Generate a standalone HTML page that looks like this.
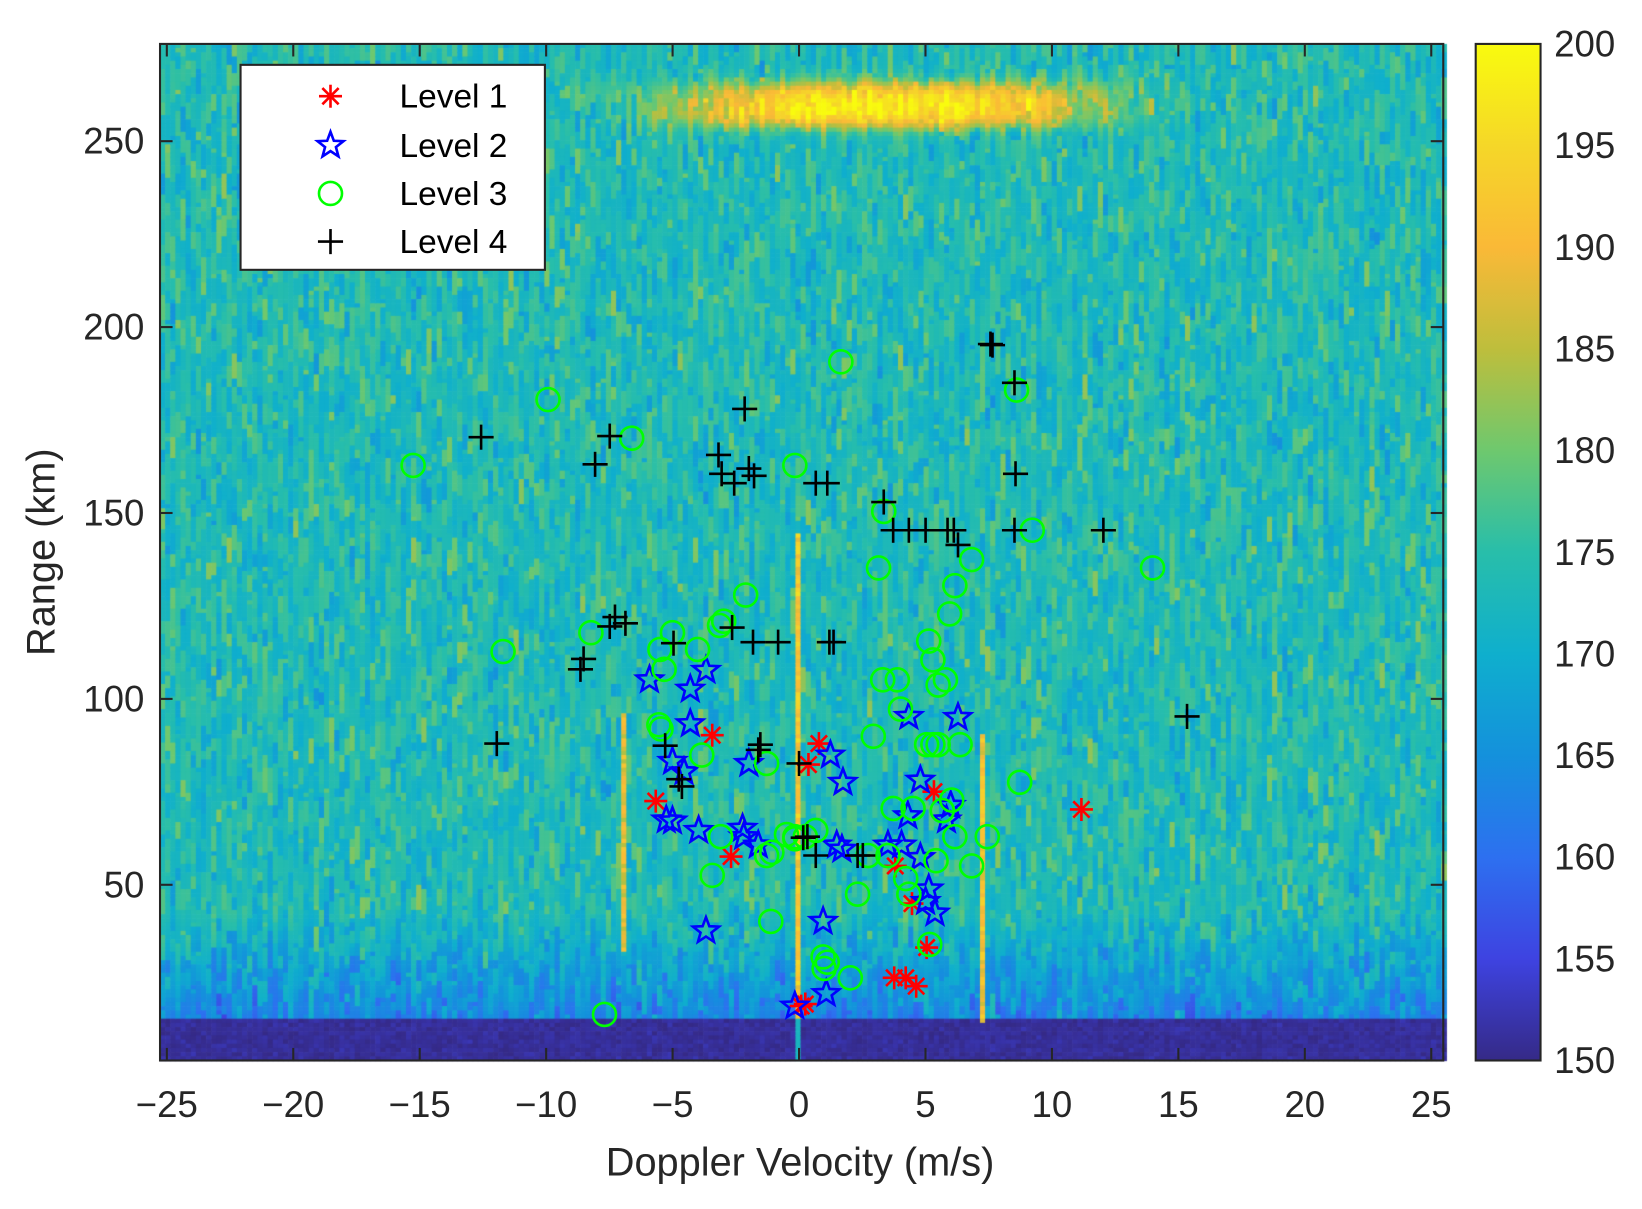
<!DOCTYPE html>
<html><head><meta charset="utf-8"><style>
html,body{margin:0;padding:0;background:#fff;}
#wrap{position:relative;width:1642px;height:1209px;overflow:hidden;}
canvas,svg{position:absolute;left:0;top:0;}
text{font-family:"Liberation Sans",sans-serif;fill:#262626;}
</style></head><body><div id="wrap">
<canvas id="c" width="1642" height="1209"></canvas>
<svg id="s" width="1642" height="1209" viewBox="0 0 1570 1156" xmlns="http://www.w3.org/2000/svg">
<defs>
<linearGradient id="cb" x1="0" y1="1" x2="0" y2="0">
<stop offset="0" stop-color="rgb(53,42,135)"/>
<stop offset="0.1" stop-color="rgb(62,67,225)"/>
<stop offset="0.2" stop-color="rgb(45,112,240)"/>
<stop offset="0.3" stop-color="rgb(20,145,220)"/>
<stop offset="0.4" stop-color="rgb(15,175,205)"/>
<stop offset="0.5" stop-color="rgb(40,190,170)"/>
<stop offset="0.6" stop-color="rgb(110,200,110)"/>
<stop offset="0.7" stop-color="rgb(190,190,60)"/>
<stop offset="0.8" stop-color="rgb(250,185,55)"/>
<stop offset="0.9" stop-color="rgb(245,215,40)"/>
<stop offset="1" stop-color="rgb(249,251,14)"/>
</linearGradient>
</defs>
<g id="marks"></g>
<rect x="153" y="42" width="1227" height="972" fill="none" stroke="#262626" stroke-width="2"/>
<g id="ticks" stroke="#262626" stroke-width="2"></g>
<g id="labels" font-size="35"></g>
<text x="765" y="1124" font-size="38" text-anchor="middle">Doppler Velocity (m/s)</text>
<text transform="translate(52,528) rotate(-90)" font-size="38" text-anchor="middle">Range (km)</text>
<rect x="1411" y="42" width="62" height="972" fill="url(#cb)" stroke="#262626" stroke-width="2"/>
<rect x="230" y="62" width="291" height="196" fill="#fff" stroke="#262626" stroke-width="2"/>
<g id="leg" font-size="32"></g>
</svg>
</div>
<script>
const S=1642/1570;
const X0=153,X1=1380,Y0=42,Y1=1014;
const cv=document.getElementById('c').getContext('2d');
cv.scale(S,S);
const st=[[0,53,42,135],[.1,62,67,225],[.2,45,112,240],[.3,20,145,220],[.4,15,175,205],[.5,40,190,170],[.6,110,200,110],[.7,190,190,60],[.8,250,185,55],[.9,245,215,40],[1,249,251,14]];
function par(v){let t=(v-150)/50;t=Math.max(0,Math.min(1,t));for(let i=1;i<st.length;i++){if(t<=st[i][0]){const a=st[i-1],b=st[i],f=(t-a[0])/(b[0]-a[0]);return `rgb(${Math.round(a[1]+f*(b[1]-a[1]))},${Math.round(a[2]+f*(b[2]-a[2]))},${Math.round(a[3]+f*(b[3]-a[3]))})`;}}}
let seed=12345;function rnd(){seed=(seed*1103515245+12345)&0x7fffffff;return seed/0x7fffffff;}
function gauss(){return (rnd()+rnd()+rnd()-1.5)*2;}
const cw=4.9,rh=4;
for(let x=X0;x<X1;x+=cw){
  let cur=0,len=0;
  for(let y=Y0;y<Y1;y+=rh){
    if(len<=0){cur=gauss()*3.2;len=1+Math.floor(rnd()*6);}
    len--;
    let v=173.6+cur;
    const xc=x+cw/2,yc=y+rh/2;
    if(yc>870) v-= (yc-870)/105*10;
    if(yc>975) v=151+gauss()*0.6;
    const bx=(xc-850)/200,by=(yc-101)/22;
    v+=27*Math.exp(-Math.pow(Math.abs(bx),3)-Math.pow(Math.abs(by),3))*(0.85+0.15*rnd());
    if(Math.abs(xc-764)<3.5 && yc>510 && yc<975) v=188+rnd()*8;
    if(Math.abs(xc-597)<3 && yc>680 && yc<910) v=184+rnd()*8;
    if(Math.abs(xc-938)<3 && yc>700 && yc<980) v=186+rnd()*8;
    if(Math.abs(xc-764)<3 && yc>=975) v=172;
    cv.fillStyle=par(v);cv.fillRect(x,y,cw+0.6,rh+0.6);
  }
}
const NS='http://www.w3.org/2000/svg';
function el(p,t,a){const e=document.createElementNS(NS,t);for(const k in a)e.setAttribute(k,a[k]);p.appendChild(e);return e;}
const tk=document.getElementById('ticks'),lb=document.getElementById('labels');
for(let v=-25;v<=25;v+=5){const x=764+24.18*v;el(tk,'line',{x1:x,y1:Y1,x2:x,y2:Y1-12});el(tk,'line',{x1:x,y1:Y0,x2:x,y2:Y0+12});
 const t=el(lb,'text',{x:x,y:1068,'text-anchor':'middle'});t.textContent=(v<0?'\u2212'+(-v):''+v);}
for(let r=50;r<=250;r+=50){const y=846-(r-50)*3.555;el(tk,'line',{x1:X0,y1:y,x2:X0+12,y2:y});el(tk,'line',{x1:X1,y1:y,x2:X1-12,y2:y});
 const t=el(lb,'text',{x:138,y:y+12,'text-anchor':'end'});t.textContent=r;}
for(let c=150;c<=200;c+=5){const y=1014-(c-150)*19.44;if(c>150&&c<200)el(tk,'line',{x1:1473,y1:y,x2:1462,y2:y});
 const t=el(lb,'text',{x:1486,y:y+12});t.textContent=c;}
const mk=document.getElementById('marks');
function star(g,x,y,r,c){let p='';for(let i=0;i<10;i++){const a=-Math.PI/2+i*Math.PI/5,rr=i%2?r*0.42:r;p+=(x+rr*Math.cos(a)).toFixed(1)+','+(y+rr*Math.sin(a)).toFixed(1)+' ';}el(g,'polygon',{points:p,fill:'none',stroke:c,'stroke-width':2.5});}
function ast(g,x,y,r,c){for(let i=0;i<4;i++){const a=i*Math.PI/4;el(g,'line',{x1:x-r*Math.sin(a),y1:y-r*Math.cos(a),x2:x+r*Math.sin(a),y2:y+r*Math.cos(a),stroke:c,'stroke-width':2.5});}}
function circ(g,x,y,c){el(g,'circle',{cx:x,cy:y,r:11,fill:'none',stroke:c,'stroke-width':2.5});}
function plus(g,x,y,c){el(g,'line',{x1:x-12,y1:y,x2:x+12,y2:y,stroke:c,'stroke-width':2.5});el(g,'line',{x1:x,y1:y-12,x2:x,y2:y+12,stroke:c,'stroke-width':2.5});}
const L3=[[395,445],[524,382],[604,419],[804,346],[972,373],[987,507],[760,445],[845,489],[840,543],[929,535],[1102,543],[913,560],[713,569],[908,587],[688,598],[692,594],[643,605],[631,621],[565,605],[481,623],[635,640],[667,621],[888,613],[892,631],[897,655],[904,650],[844,650],[858,650],[861,678],[630,693],[632,697],[671,722],[835,704],[886,712],[892,712],[897,712],[918,712],[733,730],[975,748],[854,773],[873,773],[910,765],[901,775],[944,800],[913,800],[689,800],[733,818],[738,815],[760,800],[770,800],[780,794],[830,818],[849,818],[895,823],[929,828],[681,837],[820,855],[869,855],[866,840],[737,881],[787,915],[791,920],[788,926],[813,935],[889,903],[578,970],[760,802],[752,798]];
const L4=[[460,418],[583,417],[569,444],[687,435],[712,391],[690,453],[702,462],[716,448],[721,455],[780,462],[791,462],[845,480],[854,507],[869,507],[885,507],[906,507],[912,507],[916,521],[970,507],[1055,507],[971,453],[970,366],[947,329],[949,330],[555,640],[558,630],[588,590],[583,599],[598,596],[644,615],[700,600],[720,614],[744,614],[793,614],[797,614],[1135,685],[475,711],[636,713],[649,745],[652,752],[727,712],[725,717],[764,730],[772,800],[780,818],[820,818],[825,818],[768,801]];
const L2=[[621,650],[675,641],[660,659],[660,692],[869,685],[916,686],[643,728],[654,738],[716,730],[794,722],[806,748],[880,746],[909,770],[905,784],[868,780],[643,785],[637,784],[668,794],[710,792],[725,808],[711,800],[800,808],[805,812],[849,808],[862,808],[880,820],[888,850],[885,862],[894,873],[787,881],[675,890],[790,950],[760,962]];
const L1=[[681,703],[783,711],[773,731],[627,766],[893,757],[1034,774],[699,819],[856,828],[872,864],[886,906],[855,935],[866,935],[876,943],[766,962],[770,960]];
L1.forEach(p=>ast(mk,p[0],p[1],11,'#ff0000'));
L2.forEach(p=>star(mk,p[0],p[1],13,'#0000ff'));
L3.forEach(p=>circ(mk,p[0],p[1],'#00ff00'));
L4.forEach(p=>plus(mk,p[0],p[1],'#000000'));
const lg=document.getElementById('leg');
ast(lg,316,92,11,'#ff0000');star(lg,316,139,13,'#0000ff');circ(lg,316,185,'#00ff00');plus(lg,316,231,'#000000');
[['Level 1',92],['Level 2',139],['Level 3',185],['Level 4',231]].forEach(a=>{const t=el(lg,'text',{x:382,y:a[1]+11});t.setAttribute('style','fill:#000');t.textContent=a[0];});
</script>
</body></html>
